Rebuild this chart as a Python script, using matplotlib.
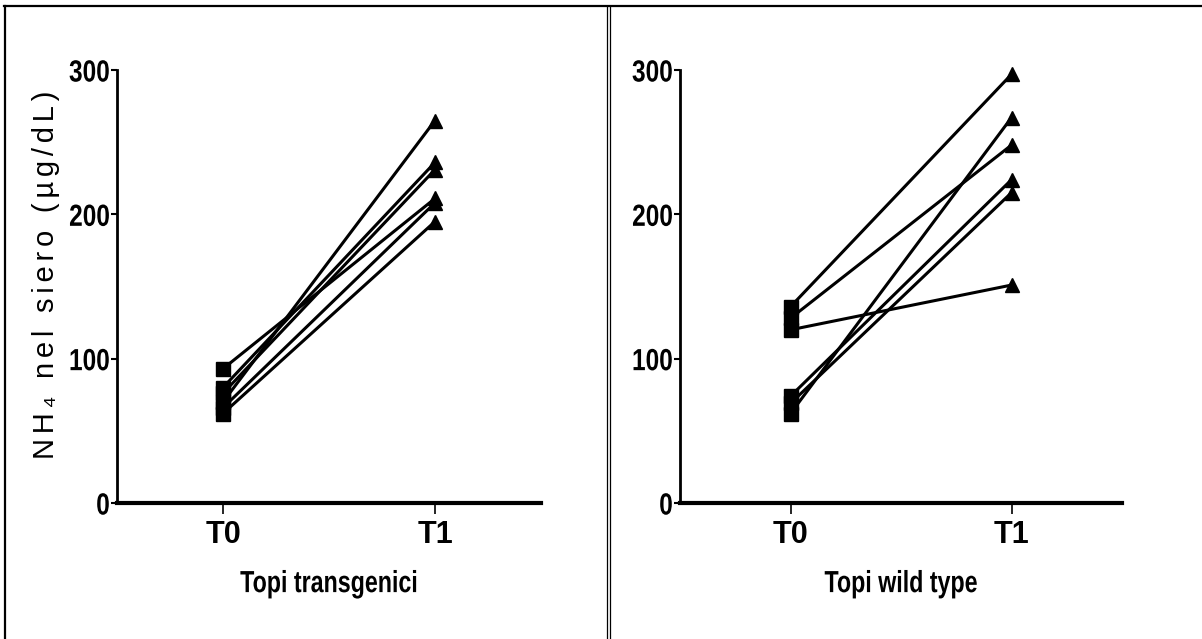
import matplotlib
matplotlib.use('Agg')
import matplotlib.pyplot as plt
from matplotlib.lines import Line2D
from matplotlib.patheffects import AbstractPathEffect
from matplotlib.transforms import Affine2D

# paired measurements, one line per mouse
times = ['T0', 'T1']
tg_t0 = [70, 80, 76, 93, 66, 62]
tg_t1 = [265, 236, 231, 211, 208, 195]
wt_t0 = [136, 62, 128, 74, 69, 120]
wt_t1 = [297, 267, 248, 224, 215, 151]
yticks = [0, 100, 200, 300]

W, H = 1202, 639
fig = plt.figure(figsize=(W / 100, H / 100), dpi=100)


class Squeeze(AbstractPathEffect):
    """Draw text glyphs narrower, keeping the anchor side fixed."""

    def __init__(self, sx=0.8, anchor='center'):
        super().__init__()
        self.sx = sx
        self.anchor = anchor

    def draw_path(self, renderer, gc, tpath, affine, rgbFace=None):
        ext = tpath.get_extents()
        x0 = ext.x1 if self.anchor == 'right' else (ext.x0 + ext.x1) / 2
        t = Affine2D().translate(-x0, 0).scale(self.sx, 1).translate(x0, 0) + affine
        renderer.draw_path(gc, tpath, t, rgbFace)


bold = dict(family=['Liberation Sans Narrow', 'Liberation Sans'], weight='bold', size=22)


def draw_panel(rect, t0, t1, xlabel):
    ax = fig.add_axes(rect)
    for a, b in zip(t0, t1):
        ax.plot([0, 1], [a, b], color='black', lw=2.2, zorder=2)
    ax.plot([0] * len(t0), t0, 's', color='black', ms=9.5, zorder=3, clip_on=False)
    ax.plot([1] * len(t1), t1, '^', color='black', ms=10, zorder=3, clip_on=False)

    ax.set_xlim(-0.5, 1.5)
    ax.set_ylim(0, 300)
    for side in ('top', 'right'):
        ax.spines[side].set_visible(False)
    ax.spines['left'].set_linewidth(2)
    ax.spines['bottom'].set_linewidth(3)

    ax.set_yticks(yticks)
    ax.set_yticklabels([str(v) for v in yticks],
                       path_effects=[Squeeze(0.8, 'right')], **bold)
    ax.set_xticks([0, 1])
    ax.set_xticklabels(times, **bold)
    ax.tick_params(axis='y', length=4, width=1.5, pad=1)
    ax.tick_params(axis='x', length=8, width=1.2, pad=4)
    ax.set_xlabel(xlabel, labelpad=14, path_effects=[Squeeze(0.76)], **bold)
    return ax


# axes rectangles in pixel units -> figure fractions
def px_rect(x0, x1, ytop, ybot):
    return [x0 / W, 1 - ybot / H, (x1 - x0) / W, (ybot - ytop) / H]


draw_panel(px_rect(117, 541, 70, 503), tg_t0, tg_t1, 'Topi transgenici')
draw_panel(px_rect(680, 1122, 70, 503), wt_t0, wt_t1, 'Topi wild type')

# y title with loose letter spacing
ylab = '\u200a\u200a'.join('NH\u2084 nel siero (\u00b5g/dL)')
fig.text(46 / W, 1 - 275 / H, ylab, rotation=90, ha='center', va='center',
         family=['Liberation Sans', 'DejaVu Sans'], size=21)

# frame around the two panels
fig.add_artist(Line2D([4 / W, 1], [1 - 5.5 / H, 1 - 5.5 / H], transform=fig.transFigure,
                      color='black', lw=1.6))
fig.add_artist(Line2D([4.5 / W, 4.5 / W], [0, 1 - 5.5 / H], transform=fig.transFigure,
                      color='black', lw=1.6))
for xp in (606.5, 609.5):
    fig.add_artist(Line2D([xp / W, xp / W], [0, 1 - 5.5 / H], transform=fig.transFigure,
                          color='black', lw=0.9))

fig.savefig('out.png', dpi=100)
